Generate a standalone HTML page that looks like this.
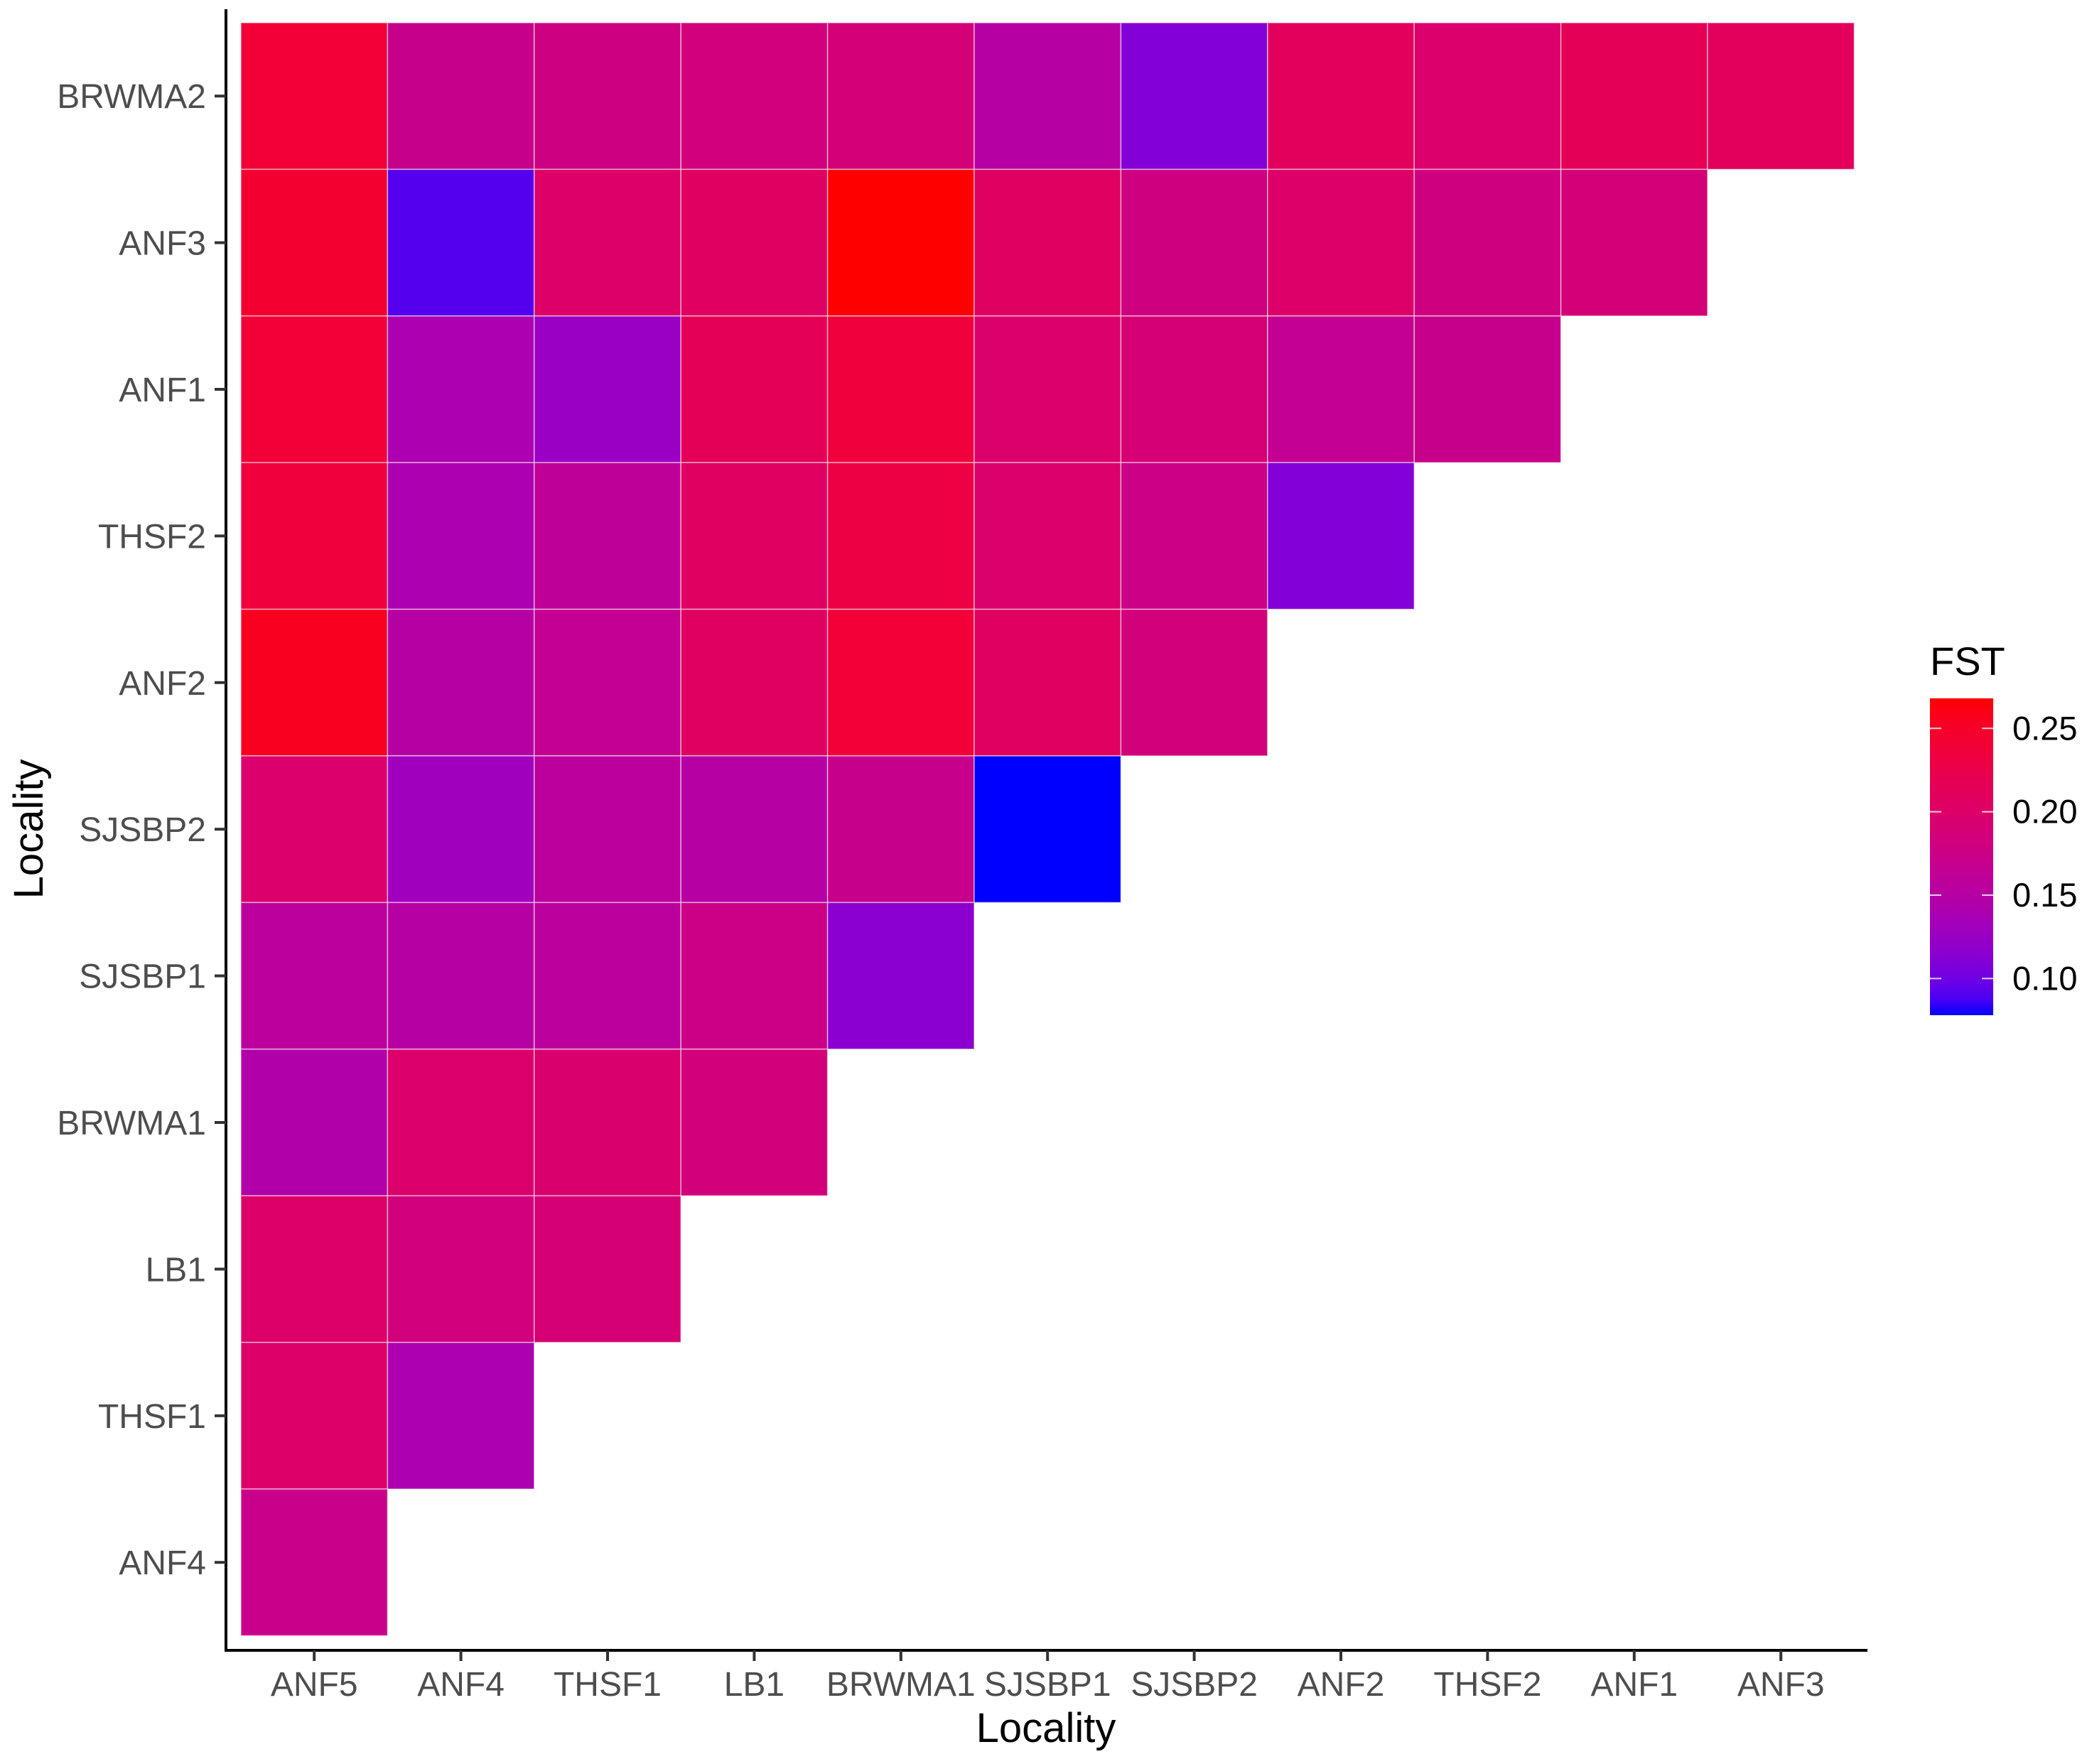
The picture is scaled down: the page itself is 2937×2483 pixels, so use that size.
<!DOCTYPE html>
<html><head><meta charset="utf-8"><style>
html,body{margin:0;padding:0;background:#fff;}
svg{display:block;}
text{font-family:"Liberation Sans",Arial,sans-serif;}
</style></head><body>
<svg id="chart" width="2937" height="2483" viewBox="0 0 2937 2483" xmlns="http://www.w3.org/2000/svg">
<defs>
<linearGradient id="grad" x1="0" y1="1" x2="0" y2="0"></linearGradient>
</defs>
<g id="tiles"></g>
<g id="axes"></g>
<g id="legend"></g>
</svg>
<script>
const xCategories = ["ANF5","ANF4","THSF1","LB1","BRWMA1","SJSBP1","SJSBP2","ANF2","THSF2","ANF1","ANF3"];
const yCategories = ["BRWMA2","ANF3","ANF1","THSF2","ANF2","SJSBP2","SJSBP1","BRWMA1","LB1","THSF1","ANF4"];
const rowBRWMA2 = [0.24,0.17,0.178,0.183,0.188,0.15,0.11,0.21,0.198,0.215,0.21];
const rowANF3   = [0.245,0.09,0.2,0.205,0.268,0.205,0.18,0.2,0.18,0.188];
const rowANF1   = [0.24,0.14,0.125,0.215,0.235,0.198,0.19,0.165,0.17];
const rowTHSF2  = [0.235,0.14,0.16,0.205,0.23,0.198,0.175,0.11];
const rowANF2   = [0.255,0.15,0.165,0.205,0.24,0.205,0.185];
const rowSJSBP2 = [0.198,0.13,0.155,0.15,0.17,0.078];
const rowSJSBP1 = [0.155,0.15,0.155,0.175,0.115];
const rowBRWMA1 = [0.145,0.198,0.195,0.185];
const rowLB1    = [0.2,0.183,0.19];
const rowTHSF1  = [0.2,0.14];
const rowANF4   = [0.172];
const rows = [rowBRWMA2,rowANF3,rowANF1,rowTHSF2,rowANF2,rowSJSBP2,rowSJSBP1,rowBRWMA1,rowLB1,rowTHSF1,rowANF4];
const legendTicks = [0.10,0.15,0.20,0.25];
const legendTickLabels = ["0.10","0.15","0.20","0.25"];
const fillMin = 0.078, fillMax = 0.268;

const NS="http://www.w3.org/2000/svg";
function mk(tag, attrs, parent){const e=document.createElementNS(NS,tag);for(const k in attrs)e.setAttribute(k,attrs[k]);parent.appendChild(e);return e;}

const plotL=339, plotT=32, cellW=206.4, cellH=206.4;
function xScale(i){return plotL+i*cellW;}
function yScale(j){return plotT+j*cellH;}

function toLin(c){c/=255;return c<=0.04045?c/12.92:Math.pow((c+0.055)/1.055,2.4);}
function fromLin(c){c=c<=0.0031308?12.92*c:1.055*Math.pow(c,1/2.4)-0.055;return Math.max(0,Math.min(255,Math.round(c*255)));}
function rgb2lab(r,g,b){r=toLin(r);g=toLin(g);b=toLin(b);
 let X=(0.4124*r+0.3576*g+0.1805*b)/0.95047,Y=(0.2126*r+0.7152*g+0.0722*b),Z=(0.0193*r+0.1192*g+0.9505*b)/1.08883;
 const f=t=>t>0.008856?Math.cbrt(t):7.787*t+16/116;
 const fx=f(X),fy=f(Y),fz=f(Z);return [116*fy-16,500*(fx-fy),200*(fy-fz)];}
function lab2rgb(L,a,b){const fy=(L+16)/116,fx=fy+a/500,fz=fy-b/200;
 const fi=t=>t*t*t>0.008856?t*t*t:(t-16/116)/7.787;
 const X=fi(fx)*0.95047,Y=fi(fy),Z=fi(fz)*1.08883;
 const r=3.2406*X-1.5372*Y-0.4986*Z,g=-0.9689*X+1.8758*Y+0.0415*Z,bb=0.0557*X-0.2040*Y+1.0570*Z;
 return "rgb("+fromLin(r)+","+fromLin(g)+","+fromLin(bb)+")";}
const labLo=rgb2lab(0,0,255), labHi=rgb2lab(255,0,0);
function colorFor(v){let t=(v-fillMin)/(fillMax-fillMin);t=Math.max(0,Math.min(1,t));
 return lab2rgb(labLo[0]+(labHi[0]-labLo[0])*t,labLo[1]+(labHi[1]-labLo[1])*t,labLo[2]+(labHi[2]-labLo[2])*t);}

const tiles=document.getElementById('tiles');
rows.forEach((row,j)=>{row.forEach((v,i)=>{
 const r=mk('rect',{x:xScale(i),y:yScale(j),width:cellW,height:cellH,fill:colorFor(v),stroke:"rgba(255,255,255,0.55)","stroke-width":1.5},tiles);
 
 
});});

const axes=document.getElementById('axes');
let l=mk('line',{x1:318,y1:13,x2:318,y2:2325,stroke:"#000","stroke-width":4},axes);

l=mk('line',{x1:316,y1:2323,x2:2628,y2:2323,stroke:"#000","stroke-width":4},axes);

xCategories.forEach((c,i)=>{const cx=xScale(i)+cellW/2;
 const t=mk('line',{x1:cx,y1:2323,x2:cx,y2:2338,stroke:"#333","stroke-width":4},axes);
 
 const tx=mk('text',{x:cx,y:2387,"text-anchor":"middle","font-size":48,fill:"#4d4d4d"},axes);tx.textContent=c;
 });
yCategories.forEach((c,j)=>{const cy=yScale(j)+cellH/2;
 const t=mk('line',{x1:302,y1:cy,x2:318,y2:cy,stroke:"#333","stroke-width":4},axes);
 
 const tx=mk('text',{x:290,y:cy+17,"text-anchor":"end","font-size":48,fill:"#4d4d4d"},axes);tx.textContent=c;
 });
let tt=mk('text',{x:1472,y:2452,"text-anchor":"middle","font-size":58,fill:"#000"},axes);tt.textContent="Locality";

tt=mk('text',{x:0,y:0,"text-anchor":"middle","font-size":58,fill:"#000",transform:"translate(60,1167) rotate(-90)"},axes);tt.textContent="Locality";


const lg=document.getElementById('legend');
const grad=document.getElementById('grad');
for(let k=0;k<=20;k++){const v=fillMin+(fillMax-fillMin)*k/20;mk('stop',{offset:(k*5)+"%","stop-color":colorFor(v)},grad);}
const barX=2716,barW=89,barT=983,barB=1429;
function legY(v){return barB-(v-fillMin)/(fillMax-fillMin)*(barB-barT);}
tt=mk('text',{x:2716,y:950,"font-size":56,fill:"#000"},lg);tt.textContent="FST";

const bar=mk('rect',{x:barX,y:barT,width:barW,height:barB-barT,fill:"url(#grad)"},lg);

legendTicks.forEach((v,k)=>{const y=legY(v);
 let a=mk('line',{x1:barX,y1:y,x2:barX+16,y2:y,stroke:"rgba(255,255,255,0.8)","stroke-width":2},lg);
 
 a=mk('line',{x1:barX+barW-16,y1:y,x2:barX+barW,y2:y,stroke:"rgba(255,255,255,0.8)","stroke-width":2},lg);
 
 const tx=mk('text',{x:2832,y:y+16,"font-size":47,fill:"#000"},lg);tx.textContent=legendTickLabels[k];
 });
</script>
</body></html>
